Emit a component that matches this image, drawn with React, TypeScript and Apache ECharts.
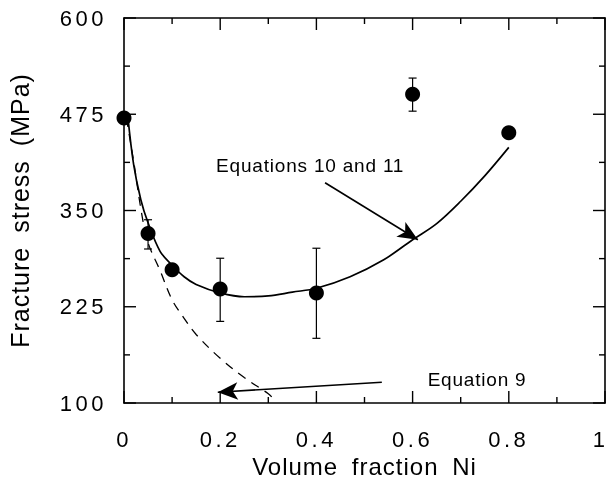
import React, { useEffect, useRef } from 'react';
import * as echarts from 'echarts';

// Measured points (volume fraction Ni, fracture stress MPa)
const pointX = [0, 0.05, 0.1, 0.2, 0.4, 0.6, 0.8];
const pointY = [470, 320, 273, 248, 243, 501, 451];
const errLow = [465, 300, null, 206, 184, 479, null];
const errHigh = [477, 338, null, 288, 301, 522, null];

// Equations 10 and 11 (solid curve)
const eq1011X = [0.008, 0.02, 0.035, 0.05, 0.075, 0.1, 0.125, 0.15, 0.2, 0.25, 0.3, 0.35, 0.4, 0.47, 0.54, 0.6, 0.65, 0.7, 0.75, 0.8];
const eq1011Y = [472, 410, 364, 334, 297, 279, 264, 254, 243, 238, 239, 244, 249, 264, 286, 312, 333, 362, 395, 432];

// Equation 9 (dashed curve)
const eq9X = [0.005, 0.02, 0.037, 0.05, 0.075, 0.1, 0.125, 0.15, 0.2, 0.25, 0.3, 0.31];
const eq9Y = [470, 414, 345, 308, 272, 234, 210, 189, 158, 133, 112, 106];

// Axes
const xMin = 0, xMax = 1, xStep = 0.2;
const yMin = 100, yMax = 600, yStep = 125;
const xMajorTicks = [0, 0.2, 0.4, 0.6, 0.8, 1];
const xMinorTicks = [0.1, 0.3, 0.5, 0.7, 0.9];
const yMajorTicks = [100, 225, 350, 475, 600];
const yMinorTicks = [162.5, 287.5, 412.5, 537.5];

// Annotations (data coordinates)
const label1011 = { text: 'Equations 10 and 11', at: [0.387, 409] };
const arrow1011 = { from: [0.418, 386], to: [0.611, 312] };
const label9 = { text: 'Equation 9', at: [0.734, 130] };
const arrow9 = { from: [0.536, 127], to: [0.195, 114] };

const FONT = '"Liberation Sans", Arial, Helvetica, sans-serif';
const MAJOR_LEN = 12;
const MINOR_LEN = 6;

export default function App() {
  const ref = useRef<HTMLDivElement>(null);
  useEffect(() => {
    const el = ref.current!;
    const chart = echarts.init(el, null, { renderer: 'svg' });
    const pts = pointX.map((x, i) => [x, pointY[i]]);
    const errs = pointX
      .map((x, i) => [x, errLow[i], errHigh[i]])
      .filter((d) => d[1] != null && d[2] != null);
    const xTickData = [
      ...xMajorTicks.map((v) => [v, yMin, 1]),
      ...xMinorTicks.map((v) => [v, yMin, 0]),
    ];
    const yTickData = [
      ...yMajorTicks.map((v) => [xMin, v, 1]),
      ...yMinorTicks.map((v) => [xMin, v, 0]),
    ];
    const base = {
      type: 'value' as const,
      axisLine: { show: true, onZero: false, lineStyle: { color: '#000', width: 1.6 } },
      axisTick: { show: false },
      splitLine: { show: false },
    };
    const option: any = {
      animation: false,
      grid: { left: 124, top: 18, right: 3, bottom: 76, outerBoundsMode: 'none' },
      xAxis: [
        {
          ...base,
          min: xMin, max: xMax, interval: xStep,
          name: 'Volume fraction Ni',
          nameLocation: 'middle',
          nameGap: 44,
          nameTextStyle: { color: '#000', fontSize: 24, fontFamily: FONT },
          axisLabel: {
            show: true, color: '#000', fontSize: 22, fontFamily: FONT, margin: 25,
            alignMaxLabel: 'right',
            formatter: (v: number) => (v === 0 ? '0' : v === 1 ? '1' : v.toFixed(1)),
          },
        },
        { ...base, position: 'top', min: xMin, max: xMax, interval: xStep, axisLabel: { show: false } },
      ],
      yAxis: [
        {
          ...base,
          min: yMin, max: yMax, interval: yStep,
          name: 'Fracture stress (MPa)',
          nameLocation: 'middle',
          nameGap: 92,
          nameRotate: 90,
          nameTextStyle: { color: '#000', fontSize: 25, fontFamily: FONT },
          axisLabel: { show: true, color: '#000', fontSize: 22, fontFamily: FONT, margin: 17 },
        },
        { ...base, position: 'right', min: yMin, max: yMax, interval: yStep, axisLabel: { show: false } },
      ],
      series: [
        {
          type: 'custom',
          name: 'xticks',
          data: xTickData,
          clip: false,
          renderItem: (params: any, api: any) => {
            const v = api.value(0);
            const len = api.value(2) ? MAJOR_LEN : MINOR_LEN;
            const b = api.coord([v, yMin]);
            const t = api.coord([v, yMax]);
            return {
              type: 'group',
              children: [
                { type: 'line', shape: { x1: b[0], y1: b[1], x2: b[0], y2: b[1] - len }, style: { stroke: '#000', lineWidth: 1.4 } },
                { type: 'line', shape: { x1: t[0], y1: t[1], x2: t[0], y2: t[1] + len }, style: { stroke: '#000', lineWidth: 1.4 } },
              ],
            };
          },
        },
        {
          type: 'custom',
          name: 'yticks',
          data: yTickData,
          clip: false,
          renderItem: (params: any, api: any) => {
            const v = api.value(1);
            const len = api.value(2) ? MAJOR_LEN : MINOR_LEN;
            const l = api.coord([xMin, v]);
            const r = api.coord([xMax, v]);
            return {
              type: 'group',
              children: [
                { type: 'line', shape: { x1: l[0], y1: l[1], x2: l[0] + len, y2: l[1] }, style: { stroke: '#000', lineWidth: 1.4 } },
                { type: 'line', shape: { x1: r[0], y1: r[1], x2: r[0] - len, y2: r[1] }, style: { stroke: '#000', lineWidth: 1.4 } },
              ],
            };
          },
        },
        {
          type: 'line',
          name: 'Equation 9',
          data: eq9X.map((x, i) => [x, eq9Y[i]]),
          smooth: 0.35,
          showSymbol: false,
          symbol: 'none',
          lineStyle: { color: '#000', width: 1.3, type: [9, 7] },
          silent: true,
        },
        {
          type: 'line',
          name: 'Equations 10 and 11',
          data: eq1011X.map((x, i) => [x, eq1011Y[i]]),
          smooth: 0.35,
          showSymbol: false,
          symbol: 'none',
          lineStyle: { color: '#000', width: 1.7 },
          silent: true,
          markLine: {
            silent: true,
            symbol: ['none', 'arrow'],
            symbolSize: [13, 20],
            label: { show: false },
            lineStyle: { color: '#000', width: 1.6, type: 'solid' },
            data: [
              [{ coord: arrow1011.from }, { coord: arrow1011.to }],
              [{ coord: arrow9.from }, { coord: arrow9.to }],
            ],
          },
          markPoint: {
            silent: true,
            symbol: 'circle',
            symbolSize: 0,
            label: {
              show: true, position: 'inside', color: '#000', fontSize: 19, fontFamily: FONT,
              formatter: (p: any) => p.name,
            },
            data: [
              { name: label1011.text, coord: label1011.at },
              { name: label9.text, coord: label9.at },
            ],
          },
        },
        {
          type: 'custom',
          name: 'error',
          data: errs,
          renderItem: (params: any, api: any) => {
            const x = api.value(0);
            const lo = api.coord([x, api.value(1)]);
            const hi = api.coord([x, api.value(2)]);
            const cw = 4;
            return {
              type: 'group',
              children: [
                { type: 'line', shape: { x1: lo[0], y1: lo[1], x2: hi[0], y2: hi[1] }, style: { stroke: '#000', lineWidth: 1.2 } },
                { type: 'line', shape: { x1: lo[0] - cw, y1: lo[1], x2: lo[0] + cw, y2: lo[1] }, style: { stroke: '#000', lineWidth: 1.2 } },
                { type: 'line', shape: { x1: hi[0] - cw, y1: hi[1], x2: hi[0] + cw, y2: hi[1] }, style: { stroke: '#000', lineWidth: 1.2 } },
              ],
            };
          },
        },
        {
          type: 'scatter',
          name: 'Data',
          data: pts,
          symbol: 'circle',
          symbolSize: 15,
          clip: false,
          itemStyle: { color: '#000', opacity: 1 },
          silent: true,
          z: 5,
        },
      ],
    };
    chart.setOption(option);
    const applySpacing = () => {
      el.querySelectorAll('text').forEach((t: any) => {
        const s = (t.textContent || '').trim();
        if (/^[0-9.]+$/.test(s)) {
          t.style.letterSpacing = s === '1' ? '0px' : '3.5px';
        } else if (s.startsWith('Fracture') || s.startsWith('Volume')) {
          t.style.letterSpacing = '1px';
          t.style.wordSpacing = '6px';
        } else if (s.startsWith('Equation')) {
          t.style.letterSpacing = '0.8px';
        }
      });
    };
    applySpacing();
    chart.on('finished', applySpacing);
    return () => {
      chart.dispose();
    };
  }, []);
  return (
    <div ref={ref} style={{ position: 'fixed', left: 0, top: 0, width: 608, height: 479 }} />
  );
}
